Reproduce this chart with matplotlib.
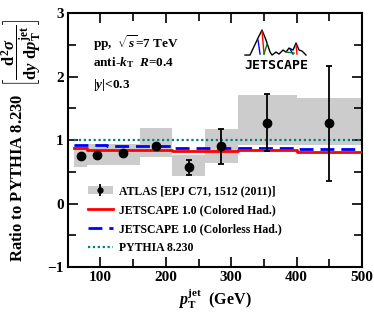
import numpy as np
import matplotlib
matplotlib.use('Agg')
import matplotlib.pyplot as plt
from matplotlib.patches import Patch
from matplotlib.legend_handler import HandlerTuple
from matplotlib.ticker import MultipleLocator

plt.rcParams['font.family'] = ['Liberation Serif', 'DejaVu Serif']
plt.rcParams['font.weight'] = 'bold'
plt.rcParams['axes.labelweight'] = 'bold'
plt.rcParams['mathtext.fontset'] = 'custom'
plt.rcParams['mathtext.rm'] = 'Liberation Serif:bold'
plt.rcParams['mathtext.it'] = 'Liberation Serif:italic:bold'
plt.rcParams['mathtext.bf'] = 'Liberation Serif:bold'

# ATLAS data, |y|<0.3, R=0.4 (ratio to PYTHIA 8.230)
bin_edges = [60, 80, 110, 160, 210, 260, 310, 400, 500]
atlas_x = [70, 95, 135, 185, 235, 285, 355, 450]
atlas_y = [0.75, 0.77, 0.79, 0.91, 0.57, 0.91, 1.27, 1.27]
atlas_err_lo = [0.0, 0.0, 0.0, 0.0, 0.12, 0.28, 0.44, 0.91]
atlas_err_hi = [0.0, 0.0, 0.0, 0.0, 0.12, 0.27, 0.45, 0.89]
sys_lo = [0.58, 0.61, 0.61, 0.74, 0.43, 0.64, 0.93, 0.92]
sys_hi = [0.93, 0.94, 0.94, 1.19, 0.76, 1.18, 1.71, 1.66]

# JETSCAPE / PYTHIA curves, per bin
colored_had = [0.87, 0.84, 0.84, 0.84, 0.83, 0.83, 0.84, 0.81]
colorless_had = [0.93, 0.93, 0.90, 0.90, 0.87, 0.87, 0.87, 0.86]
pythia = [1.0, 1.0, 1.0, 1.0, 1.0, 1.0, 1.0, 1.0]

fig = plt.figure(figsize=(3.74, 3.18), dpi=100)
ax = fig.add_axes([0.181, 0.160, 0.787, 0.799])

gray = '#cccccc'
for i in range(len(atlas_x)):
    ax.fill_between([bin_edges[i], bin_edges[i + 1]], sys_lo[i], sys_hi[i],
                    color=gray, lw=0, zorder=1)


def steps(vals):
    return list(vals) + [vals[-1]]


ax.step(bin_edges, steps(pythia), where='post', color='#008080', ls=(0, (1, 1.2)),
        lw=1.6, zorder=3)
ax.step(bin_edges, steps(colorless_had), where='post', color='#0000ff',
        ls=(0, (5, 2.5)), lw=2, zorder=3)
ax.step(bin_edges, steps(colored_had), where='post', color='#ff0000', lw=2,
        zorder=3)

ax.errorbar(atlas_x, atlas_y, yerr=[atlas_err_lo, atlas_err_hi], fmt='o',
            color='black', ms=6, capsize=2.5, elinewidth=1.3,
            capthick=1.3, zorder=4)
# small-marker copy for the legend only
eb_leg = ax.errorbar([], [], yerr=[], fmt='o', color='black', ms=3.5,
                     capsize=0, elinewidth=1.3)

ax.set_xlim(50, 500)
ax.set_ylim(-1, 3)
ax.xaxis.set_major_locator(MultipleLocator(100))
ax.xaxis.set_minor_locator(MultipleLocator(50))
ax.yaxis.set_major_locator(MultipleLocator(1))
ax.yaxis.set_minor_locator(MultipleLocator(0.5))
ax.tick_params(which='both', direction='in', top=True, right=True,
               labelsize=11, width=1.2)
ax.tick_params(which='major', length=7, pad=3)
ax.tick_params(which='minor', length=6)
for s in ax.spines.values():
    s.set_linewidth(1.5)

ax.set_xlabel(r'$p_{\mathrm{T}}^{\mathrm{jet}}$  (GeV)', fontsize=11.5,
              labelpad=1)
ax.set_ylabel(r'Ratio to PYTHIA 8.230  $\left[\dfrac{\mathrm{d}^2\sigma}'
              r'{\mathrm{d}y\ \mathrm{d}p_{\mathrm{T}}^{\mathrm{jet}}}\right]$',
              fontsize=12, labelpad=2)

txt_kw = dict(transform=ax.transAxes, fontsize=9.5, va='center', ha='left')
ax.text(0.085, 0.882, r'pp,  $\sqrt{s}$=7 TeV', **txt_kw)
ax.text(0.085, 0.803, r'anti-$k_{\mathrm{T}}$  $R$=0.4', **txt_kw)
ax.text(0.085, 0.717, r'|$y$|<0.3', **txt_kw)


# JETSCAPE logo (decoration, pixel positions converted to axes fraction)
def px(x, y):
    return (x - 67.7) / 294.3, (267 - y) / 254


logo = [(245, 55), (250, 55), (258, 38), (262, 30), (266, 40), (270, 52),
        (272, 55), (276, 52), (279, 54), (283, 50), (286, 52), (289, 48),
        (293, 50), (296, 43), (299, 50), (302, 51), (306, 55)]
lx, ly = zip(*[px(*p) for p in logo])
ax.plot(lx, ly, color='black', lw=1.0, transform=ax.transAxes, zorder=5)
for (a, b, c) in [((262, 31), (264, 54), 'red'), ((258, 40), (260, 54), 'blue'),
                  ((267, 44), (264, 54), 'green'), ((296, 45), (297, 54), 'red'),
                  ((290, 49), (293, 54), 'blue'), ((286, 52), (294, 53), 'green')]:
    p1, p2 = px(*a), px(*b)
    ax.plot([p1[0], p2[0]], [p1[1], p2[1]], color=c, lw=1.0,
            transform=ax.transAxes, zorder=5)
tx, ty = px(276, 65)
ax.text(tx, ty, 'JETSCAPE', transform=ax.transAxes, fontsize=9.5,
        family='DejaVu Sans Mono', weight='bold', ha='center', va='center')

box = Patch(facecolor=gray, edgecolor='none')
handles = [(box, eb_leg),
           plt.Line2D([], [], color='#ff0000', lw=2),
           plt.Line2D([], [], color='#0000ff', lw=2, ls=(0, (5, 2.5))),
           plt.Line2D([], [], color='#008080', lw=1.6, ls=(0, (1, 1.2)))]
labels = ['ATLAS [EPJ C71, 1512 (2011)]',
          'JETSCAPE 1.0 (Colored Had.)',
          'JETSCAPE 1.0 (Colorless Had.)',
          'PYTHIA 8.230']
ax.legend(handles, labels, loc='upper left', bbox_to_anchor=(0.069, 0.324),
          frameon=False, prop={'size': 8.5, 'weight': 'bold'}, borderpad=0,
          borderaxespad=0, handlelength=2.1, handletextpad=0.5,
          labelspacing=0.6, handler_map={tuple: HandlerTuple(ndivide=1)})

fig.savefig('out.png', dpi=100)
